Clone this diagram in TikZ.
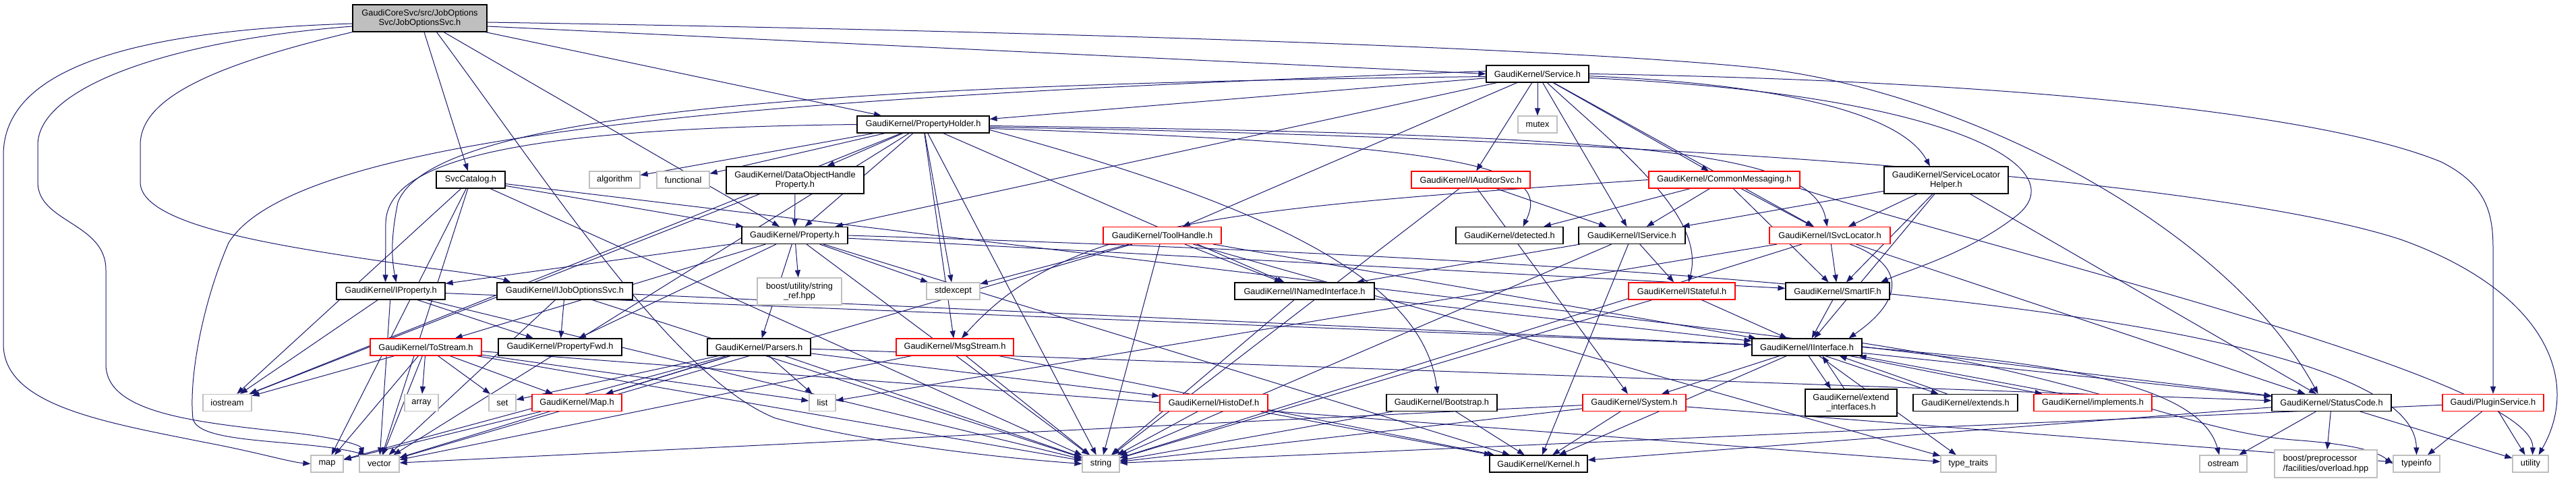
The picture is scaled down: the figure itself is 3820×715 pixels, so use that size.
\documentclass[tikz,border=0pt]{standalone}
\usepackage{fontspec}
\setmainfont{Liberation Sans}
\usetikzlibrary{arrows.meta}
\definecolor{edgec}{HTML}{191970}
\definecolor{sysgray}{HTML}{BFBFBF}
\definecolor{truncred}{HTML}{FF0000}
\definecolor{rootgray}{HTML}{BFBFBF}
\pgfdeclarelayer{bglayer}
\pgfdeclarelayer{edgelayer}
\pgfsetlayers{bglayer,edgelayer,main}
\newcommand{\gfont}{\fontsize{12.8}{14.5}\selectfont}
\tikzset{
  nd/.style={draw=black, line width=1.2pt, fill=white, inner sep=0pt, minimum height=25pt, font=\gfont, align=center, text=black},
  sys/.style={nd, draw=sysgray},
  trunc/.style={nd, draw=truncred},
  edg/.style={draw=edgec, line width=1pt, -{Triangle[length=11pt,width=8pt]}},
}
\begin{document}
\begin{tikzpicture}[x=1pt,y=-1pt]
\useasboundingbox (0,0) rectangle (3820,715);
\begin{pgfonlayer}{bglayer}
\fill[white] (0,0) rectangle (3820,715);
\end{pgfonlayer}
% row 1
\node[nd, fill=rootgray, minimum width=199pt, minimum height=40pt] (root) at (622.5,27) {GaudiCoreSvc/src/JobOptions\\Svc/JobOptionsSvc.h};
% row 2
\node[nd, minimum width=152pt] (Service) at (2280,109.5) {GaudiKernel/Service.h};
% row 3
\node[nd, minimum width=196pt] (PH) at (1369,184.5) {GaudiKernel/PropertyHolder.h};
\node[sys, minimum width=58pt] (mutex) at (2280,184.5) {mutex};
% row 4
\node[nd, minimum width=102pt] (SvcCat) at (698,266.5) {SvcCatalog.h};
\node[sys, minimum width=75pt] (algorithm) at (911.5,266.5) {algorithm};
\node[sys, minimum width=78pt] (functional) at (1013,266.5) {functional};
\node[nd, minimum width=204pt, minimum height=40pt] (DOHP) at (1179,267) {GaudiKernel/DataObjectHandle\\Property.h};
\node[trunc, minimum width=176pt] (IAud) at (2181,266.5) {GaudiKernel/IAuditorSvc.h};
\node[trunc, minimum width=224pt] (CM) at (2557,266.5) {GaudiKernel/CommonMessaging.h};
\node[nd, minimum width=184pt, minimum height=40pt] (SLH) at (2886,267) {GaudiKernel/ServiceLocator\\Helper.h};
% row 5
\node[nd, minimum width=157pt] (Prop) at (1178.5,349) {GaudiKernel/Property.h};
\node[trunc, minimum width=175pt] (TH) at (1723.5,349) {GaudiKernel/ToolHandle.h};
\node[nd, minimum width=159pt] (det) at (2238.5,349) {GaudiKernel/detected.h};
\node[nd, minimum width=158pt] (IServ) at (2420,349) {GaudiKernel/IService.h};
\node[trunc, minimum width=179pt] (ISL) at (2713.5,349) {GaudiKernel/ISvcLocator.h};
% row 6
\node[nd, minimum width=161pt] (IProp) at (579.5,431.5) {GaudiKernel/IProperty.h};
\node[nd, minimum width=201pt] (IJOS) at (837.5,431.5) {GaudiKernel/IJobOptionsSvc.h};
\node[sys, minimum width=125pt, minimum height=40pt] (bsr) at (1185.5,432) {boost/utility/string\\\_ref.hpp};
\node[sys, minimum width=79pt] (stdexcept) at (1413.5,431.5) {stdexcept};
\node[nd, minimum width=207pt] (INI) at (1934.5,431.5) {GaudiKernel/INamedInterface.h};
\node[trunc, minimum width=158pt] (IStat) at (2494,431.5) {GaudiKernel/IStateful.h};
\node[nd, minimum width=154pt] (SmartIF) at (2725,431.5) {GaudiKernel/SmartIF.h};
% row 7
\node[trunc, minimum width=165pt] (ToStream) at (631.5,514.5) {GaudiKernel/ToStream.h};
\node[nd, minimum width=183pt] (PFwd) at (830.5,514.5) {GaudiKernel/PropertyFwd.h};
\node[nd, minimum width=153pt] (Parsers) at (1125.5,514.5) {GaudiKernel/Parsers.h};
\node[trunc, minimum width=174pt] (MsgS) at (1416,514.5) {GaudiKernel/MsgStream.h};
\node[nd, minimum width=163pt] (IIf) at (2679.5,514.5) {GaudiKernel/IInterface.h};
% row 8
\node[sys, minimum width=72pt] (iostream) at (337,597) {iostream};
\node[sys, minimum width=50pt] (array) at (625,597) {array};
\node[sys, minimum width=40pt] (set) at (745,597) {set};
\node[trunc, minimum width=133pt] (MapH) at (855.5,597) {GaudiKernel/Map.h};
\node[sys, minimum width=39pt] (list) at (1219.5,597) {list};
\node[trunc, minimum width=160pt] (HistoDef) at (1800,597) {GaudiKernel/HistoDef.h};
\node[nd, minimum width=164pt] (Boot) at (2138,597) {GaudiKernel/Bootstrap.h};
\node[trunc, minimum width=153pt] (System) at (2423.5,597) {GaudiKernel/System.h};
\node[nd, minimum width=136pt, minimum height=40pt] (extif) at (2745,597) {GaudiKernel/extend\\\_interfaces.h};
\node[nd, minimum width=155pt] (extends) at (2914.5,597) {GaudiKernel/extends.h};
\node[trunc, minimum width=175pt] (impl) at (3103.5,597) {GaudiKernel/implements.h};
\node[nd, minimum width=177pt] (SC) at (3457.5,597) {GaudiKernel/StatusCode.h};
\node[trunc, minimum width=150pt] (PlugS) at (3697,597) {Gaudi/PluginService.h};
% row 9
\node[sys, minimum width=48pt] (map) at (485,687.5) {map};
\node[sys, minimum width=59pt] (vector) at (562.5,687.5) {vector};
\node[sys, minimum width=55pt] (string) at (1632.5,687.5) {string};
\node[nd, minimum width=145pt] (Kernel) at (2281.5,687.5) {GaudiKernel/Kernel.h};
\node[sys, minimum width=82pt] (tt) at (2919,687.5) {type\_traits};
\node[sys, minimum width=70pt] (ostream) at (3297,687.5) {ostream};
\node[sys, minimum width=152pt, minimum height=41pt, align=left] (ovl) at (3449,687.5) {boost/preprocessor\\/facilities/overload.hpp};
\node[sys, minimum width=69pt] (typeinfo) at (3583.5,687.5) {typeinfo};
\node[sys, minimum width=53pt] (utility) at (3752.5,687.5) {utility};

\begin{pgfonlayer}{edgelayer}
\foreach \a/\b in {root/SvcCat, root/Prop, root/PH,
  Service/PH, Service/Prop, Service/TH, Service/IAud, Service/mutex, Service/IServ, Service/CM, Service/ISL,
  PH/algorithm, PH/functional, PH/DOHP, PH/Prop, PH/iostream, PH/vector, PH/stdexcept, PH/string, PH/INI, PH/MsgS,
  SvcCat/Prop, SvcCat/SC, SvcCat/string, SvcCat/vector, SvcCat/iostream, SvcCat/map,
  DOHP/Prop, DOHP/iostream,
  Prop/IProp, Prop/ToStream, Prop/PFwd, Prop/Parsers, Prop/bsr, Prop/stdexcept, Prop/string, Prop/Kernel, Prop/SmartIF,
  IProp/iostream, IProp/vector, IProp/string, IProp/IIf, IProp/PFwd,
  IJOS/PFwd, IJOS/string, IJOS/vector, IJOS/IIf,
  ToStream/iostream, ToStream/map, ToStream/vector, ToStream/array, ToStream/set, ToStream/MapH, ToStream/list, ToStream/string, ToStream/tt,
  Parsers/set, Parsers/MapH, Parsers/list, Parsers/vector, Parsers/map, Parsers/string, Parsers/HistoDef, Parsers/SC,
  MapH/map,
  MsgS/string, MsgS/vector, MsgS/Kernel,
  TH/stdexcept, TH/string, TH/INI, TH/vector, TH/tt, TH/IIf,
  CM/det, CM/IServ, CM/ISL, CM/SmartIF,
  IAud/IServ, IAud/string, IAud/System,
  IServ/INI, IServ/IStat, IServ/Kernel, IServ/string,
  SLH/IServ, SLH/ISL, SLH/SmartIF, SLH/IIf, SLH/SC,
  ISL/SmartIF, ISL/string, ISL/list, ISL/SC,
  INI/IIf, INI/string,
  IStat/IIf, IStat/string,
  SmartIF/IIf,
  IIf/System, IIf/Kernel, IIf/SC, IIf/tt,
  System/Kernel, System/string, System/vector, System/typeinfo,
  Boot/Kernel, Boot/string,
  HistoDef/string, HistoDef/Kernel,
  SC/Kernel, SC/ostream, SC/ovl, SC/utility,
  PlugS/string, PlugS/typeinfo, PlugS/utility}
  \draw[edg] (\a) -- (\b);

% root long curves
\draw[edg] ([yshift=-8pt]root.west) .. controls (200,45) and (5,100) .. (5,230) -- (5,510) .. controls (5,600) and (150,625) .. (300,655) .. controls (380,670) and (430,685) .. (map.west);
\draw[edg] ([yshift=-12pt]root.west) .. controls (250,60) and (56,130) .. (56,215) -- (56,270) .. controls (56,330) and (157,330) .. (157,400) -- (157,540) .. controls (157,610) and (280,625) .. (420,640) .. controls (500,648) and (535,660) .. ([xshift=6pt]vector.north west);
\draw[edg] (root.south west) .. controls (300,100) and (208,150) .. (208,215) -- (208,270) .. controls (208,340) and (450,370) .. (640,398) .. controls (700,405) and (740,412) .. ([xshift=-80pt]IJOS.north);
\draw[edg] ([yshift=-12pt]root.east) -- (Service.west);
\draw[edg] ([yshift=-6pt]root.east) .. controls (1500,45) and (2300,70) .. (2600,100) .. controls (2900,130) and (3300,330) .. ([xshift=-20pt]SC.north);
\draw[edg] ([xshift=25pt]root.south) .. controls (820,280) and (1000,560) .. (1150,620) .. controls (1300,660) and (1500,680) .. (string.west);
% Service curves
\draw[edg] ([yshift=-4pt]Service.west) .. controls (1200,125) and (640,170) .. (590,300) .. controls (580,350) and (580,380) .. ([xshift=8pt]IProp.north);
\draw[edg] ([yshift=4pt]Service.west) .. controls (1300,140) and (450,180) .. (339,360) .. controls (300,450) and (280,560) .. (286,620) .. controls (292,660) and (450,650) .. ([xshift=-20pt]vector.north);
\draw[edg] (Service.east) .. controls (3000,120) and (3450,170) .. (3620,240) .. controls (3690,275) and (3697,320) .. (3697,370) -- (PlugS.north);
\draw[edg] (Service) .. controls (2400,220) and (2530,320) .. ([xshift=10pt]IStat.north);
\draw[edg] (Service) .. controls (2650,125) and (2820,170) .. ([xshift=-24pt]SLH.north);
\draw[edg] ([yshift=-6pt]Service.east) .. controls (2900,140) and (3080,250) .. (2990,320) .. controls (2920,375) and (2830,400) .. ([xshift=64pt]SmartIF.north);
% PropertyHolder curves
\draw[edg] (PH.west) .. controls (800,190) and (575,230) .. (572,330) -- ([xshift=-8pt]IProp.north);
\draw[edg] ([yshift=-6pt]PH.east) .. controls (2200,215) and (2300,250) .. ([xshift=20pt]det.north);
\draw[edg] ([yshift=-2pt]PH.east) .. controls (2450,200) and (2690,225) .. ([xshift=-4pt]ISL.north);
\draw[edg] ([yshift=-8pt]PH.east) .. controls (1900,310) and (2110,420) .. ([xshift=-6pt]Boot.north);
\draw[edg] ([yshift=-4pt]PH.east) .. controls (2500,205) and (3300,270) .. (3560,355) .. controls (3770,430) and (3830,560) .. ([xshift=12pt]utility.north);
% CommonMessaging curves
\draw[edg] (CM.west) .. controls (1800,310) and (1580,330) .. ([xshift=10pt]MsgS.north);
\draw[edg] (CM.south east) .. controls (2950,370) and (3760,560) .. ([xshift=3pt]utility.north);
% Property -> typeinfo
\draw[edg] (Prop.east) .. controls (2600,390) and (3580,470) .. (typeinfo.north);
% IInterface -> ostream / typeinfo
\draw[edg] (IIf.east) .. controls (3000,535) and (3260,560) .. ([xshift=-6pt]ostream.north);
\draw[edg] ([yshift=6pt]IIf.east) .. controls (3100,560) and (3250,640) .. (3400,652) .. controls (3480,658) and (3520,666) .. (typeinfo.west);
% ISvcLocator -> IInterface loop
\draw[edg] ([xshift=30pt]ISL.south) .. controls (2820,390) and (2830,440) .. ([xshift=62pt]IIf.north);
% IInterface cycles
\draw[edg] ([xshift=2.5pt]IIf.south) -- ([xshift=-30pt]extif.north);
\draw[edg] ([xshift=-10pt]extif.north) -- ([xshift=23pt]IIf.south);
\draw[edg] ([xshift=27pt]IIf.south) -- ([xshift=-40pt]extends.north);
\draw[edg] ([xshift=-27pt]extends.north) -- ([xshift=48pt]IIf.south);
\draw[edg] ([xshift=64pt]IIf.south) -- ([xshift=-75pt]impl.north);
\draw[edg] ([xshift=-45pt]impl.north) -- ([xshift=77pt]IIf.south);
\end{pgfonlayer}
\end{tikzpicture}
\end{document}
